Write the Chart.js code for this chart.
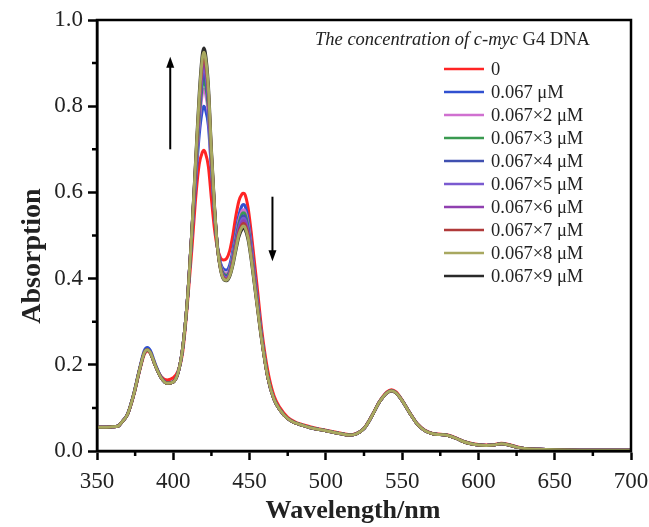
<!DOCTYPE html>
<html>
<head>
<meta charset="utf-8">
<script src="https://cdn.jsdelivr.net/npm/chart.js@4.4.1/dist/chart.umd.min.js"></script>
<style>
  html, body { margin: 0; padding: 0; background: #fff; }
  #wrap { width: 649px; height: 527px; }
</style>
</head>
<body>
<div id="wrap"><canvas id="spectra" width="649" height="527"></canvas></div>
<script>
// UV-vis spectra, one curve per titration step
const wavelengths = [
  350, 355, 360, 364, 366, 370, 374, 378, 381, 383,
  385, 388, 392, 396, 400, 403, 406,
  409, 412, 415, 417, 419, 420, 421, 423, 425, 427, 429, 431, 433, 435, 437, 439, 441, 443, 445, 446, 447, 449, 451, 453, 455, 458,
  462, 466, 470, 475, 480, 490, 500, 510, 515, 520,
  525, 530, 535, 540, 543, 546, 550, 555, 560, 565,
  570, 575, 580, 585, 590, 595, 600, 605, 610, 615,
  620, 625, 630, 640, 650, 670, 700
];

const abs0 = [
  0.055, 0.055, 0.056, 0.058, 0.066, 0.085, 0.128, 0.187, 0.224, 0.232,
  0.226, 0.2, 0.173, 0.165, 0.17, 0.185, 0.225,
  0.33, 0.46, 0.60, 0.665, 0.693, 0.698, 0.692, 0.66, 0.585, 0.515, 0.47, 0.448, 0.443, 0.447, 0.465, 0.50, 0.545, 0.58, 0.596, 0.598, 0.595, 0.565, 0.51, 0.445, 0.38, 0.28,
  0.185, 0.128, 0.1, 0.078, 0.067, 0.056, 0.048, 0.041, 0.038, 0.041,
  0.053, 0.081, 0.114, 0.137, 0.142, 0.137, 0.118, 0.089, 0.063, 0.048,
  0.041, 0.039, 0.037, 0.031, 0.023, 0.018, 0.015, 0.014, 0.015, 0.018,
  0.015, 0.01, 0.006, 0.004, 0.003, 0.002, 0.002
];
const abs1 = [
  0.055, 0.055, 0.056, 0.058, 0.066, 0.086, 0.132, 0.193, 0.233, 0.24,
  0.233, 0.204, 0.172, 0.158, 0.161, 0.18, 0.235,
  0.34, 0.49, 0.64, 0.733, 0.79, 0.80, 0.793, 0.755, 0.65, 0.552, 0.475, 0.436, 0.422, 0.42, 0.432, 0.465, 0.508, 0.547, 0.569, 0.572, 0.569, 0.538, 0.484, 0.42, 0.357, 0.265,
  0.17, 0.12, 0.095, 0.075, 0.065, 0.054, 0.047, 0.04, 0.037, 0.04,
  0.052, 0.08, 0.113, 0.135, 0.14, 0.135, 0.117, 0.088, 0.062, 0.047,
  0.04, 0.038, 0.036, 0.03, 0.022, 0.017, 0.014, 0.013, 0.014, 0.017,
  0.014, 0.009, 0.006, 0.004, 0.003, 0.002, 0.002
];
const abs2 = [
  0.055, 0.055, 0.056, 0.058, 0.066, 0.085, 0.13, 0.19, 0.228, 0.235,
  0.228, 0.2, 0.17, 0.157, 0.16, 0.18, 0.235,
  0.34, 0.495, 0.657, 0.76, 0.828, 0.84, 0.832, 0.782, 0.662, 0.556, 0.472, 0.431, 0.415, 0.412, 0.423, 0.455, 0.497, 0.535, 0.557, 0.56, 0.557, 0.527, 0.475, 0.413, 0.351, 0.262,
  0.17, 0.12, 0.095, 0.075, 0.065, 0.054, 0.047, 0.04, 0.037, 0.04,
  0.052, 0.08, 0.113, 0.135, 0.14, 0.135, 0.117, 0.088, 0.062, 0.047,
  0.04, 0.038, 0.036, 0.03, 0.022, 0.017, 0.014, 0.013, 0.014, 0.017,
  0.014, 0.009, 0.006, 0.004, 0.003, 0.002, 0.002
];
const abs3 = [
  0.055, 0.055, 0.056, 0.058, 0.066, 0.085, 0.13, 0.19, 0.228, 0.235,
  0.228, 0.2, 0.17, 0.157, 0.16, 0.18, 0.235,
  0.34, 0.50, 0.667, 0.774, 0.847, 0.86, 0.851, 0.797, 0.67, 0.558, 0.47, 0.428, 0.411, 0.408, 0.419, 0.45, 0.491, 0.528, 0.55, 0.553, 0.55, 0.521, 0.47, 0.409, 0.348, 0.261,
  0.17, 0.12, 0.095, 0.075, 0.065, 0.054, 0.047, 0.04, 0.037, 0.04,
  0.052, 0.08, 0.113, 0.135, 0.14, 0.135, 0.117, 0.088, 0.062, 0.047,
  0.04, 0.038, 0.036, 0.03, 0.022, 0.017, 0.014, 0.013, 0.014, 0.017,
  0.014, 0.009, 0.006, 0.004, 0.003, 0.002, 0.002
];
const abs4 = [
  0.055, 0.055, 0.056, 0.058, 0.066, 0.085, 0.13, 0.19, 0.228, 0.235,
  0.228, 0.2, 0.17, 0.157, 0.16, 0.18, 0.235,
  0.34, 0.50, 0.673, 0.784, 0.861, 0.875, 0.866, 0.807, 0.675, 0.56, 0.47, 0.426, 0.408, 0.405, 0.416, 0.446, 0.486, 0.522, 0.543, 0.546, 0.543, 0.515, 0.465, 0.405, 0.345, 0.26,
  0.17, 0.12, 0.095, 0.075, 0.065, 0.054, 0.047, 0.04, 0.037, 0.04,
  0.052, 0.08, 0.113, 0.135, 0.14, 0.135, 0.117, 0.088, 0.062, 0.047,
  0.04, 0.038, 0.036, 0.03, 0.022, 0.017, 0.014, 0.013, 0.014, 0.017,
  0.014, 0.009, 0.006, 0.004, 0.003, 0.002, 0.002
];
const abs5 = [
  0.055, 0.055, 0.056, 0.058, 0.066, 0.085, 0.13, 0.19, 0.228, 0.235,
  0.228, 0.2, 0.17, 0.157, 0.16, 0.18, 0.235,
  0.34, 0.50, 0.68, 0.794, 0.876, 0.89, 0.88, 0.817, 0.68, 0.562, 0.47, 0.424, 0.405, 0.402, 0.413, 0.442, 0.481, 0.517, 0.537, 0.54, 0.537, 0.51, 0.461, 0.402, 0.343, 0.259,
  0.17, 0.12, 0.095, 0.075, 0.065, 0.054, 0.047, 0.04, 0.037, 0.04,
  0.052, 0.08, 0.113, 0.135, 0.14, 0.135, 0.117, 0.088, 0.062, 0.047,
  0.04, 0.038, 0.036, 0.03, 0.022, 0.017, 0.014, 0.013, 0.014, 0.017,
  0.014, 0.009, 0.006, 0.004, 0.003, 0.002, 0.002
];
const abs6 = [
  0.055, 0.055, 0.056, 0.058, 0.066, 0.085, 0.13, 0.19, 0.228, 0.235,
  0.228, 0.2, 0.17, 0.157, 0.16, 0.18, 0.235,
  0.34, 0.50, 0.685, 0.803, 0.888, 0.903, 0.893, 0.826, 0.685, 0.564, 0.47, 0.423, 0.403, 0.40, 0.411, 0.439, 0.477, 0.512, 0.531, 0.534, 0.531, 0.505, 0.457, 0.399, 0.341, 0.258,
  0.17, 0.12, 0.095, 0.075, 0.065, 0.054, 0.047, 0.04, 0.037, 0.04,
  0.052, 0.08, 0.113, 0.135, 0.14, 0.135, 0.117, 0.088, 0.062, 0.047,
  0.04, 0.038, 0.036, 0.03, 0.022, 0.017, 0.014, 0.013, 0.014, 0.017,
  0.014, 0.009, 0.006, 0.004, 0.003, 0.002, 0.002
];
const abs7 = [
  0.055, 0.055, 0.056, 0.058, 0.066, 0.085, 0.13, 0.19, 0.228, 0.235,
  0.228, 0.2, 0.17, 0.157, 0.16, 0.18, 0.235,
  0.34, 0.50, 0.69, 0.812, 0.90, 0.915, 0.905, 0.835, 0.69, 0.566, 0.47, 0.422, 0.401, 0.398, 0.409, 0.436, 0.473, 0.507, 0.525, 0.528, 0.525, 0.50, 0.453, 0.396, 0.339, 0.257,
  0.17, 0.12, 0.095, 0.075, 0.065, 0.054, 0.047, 0.04, 0.037, 0.04,
  0.052, 0.08, 0.113, 0.135, 0.14, 0.135, 0.117, 0.088, 0.062, 0.047,
  0.04, 0.038, 0.036, 0.03, 0.022, 0.017, 0.014, 0.013, 0.014, 0.017,
  0.014, 0.009, 0.006, 0.004, 0.003, 0.002, 0.002
];
const abs8 = [
  0.055, 0.055, 0.056, 0.058, 0.066, 0.085, 0.13, 0.19, 0.228, 0.235,
  0.228, 0.2, 0.17, 0.157, 0.16, 0.18, 0.235,
  0.34, 0.50, 0.695, 0.82, 0.91, 0.925, 0.915, 0.842, 0.695, 0.568, 0.47, 0.421, 0.399, 0.396, 0.407, 0.433, 0.469, 0.502, 0.519, 0.522, 0.519, 0.495, 0.449, 0.393, 0.337, 0.256,
  0.17, 0.12, 0.095, 0.075, 0.065, 0.054, 0.047, 0.04, 0.037, 0.04,
  0.052, 0.08, 0.113, 0.135, 0.14, 0.135, 0.117, 0.088, 0.062, 0.047,
  0.04, 0.038, 0.036, 0.03, 0.022, 0.017, 0.014, 0.013, 0.014, 0.017,
  0.014, 0.009, 0.006, 0.004, 0.003, 0.002, 0.002
];
const abs9 = [
  0.055, 0.055, 0.056, 0.058, 0.066, 0.085, 0.13, 0.19, 0.228, 0.235,
  0.228, 0.2, 0.17, 0.157, 0.16, 0.18, 0.235,
  0.34, 0.50, 0.70, 0.83, 0.92, 0.935, 0.925, 0.85, 0.70, 0.57, 0.47, 0.42, 0.398, 0.395, 0.405, 0.43, 0.465, 0.497, 0.514, 0.517, 0.514, 0.49, 0.445, 0.39, 0.335, 0.255,
  0.17, 0.12, 0.095, 0.075, 0.065, 0.054, 0.047, 0.04, 0.037, 0.04,
  0.052, 0.08, 0.113, 0.135, 0.14, 0.135, 0.117, 0.088, 0.062, 0.047,
  0.04, 0.038, 0.036, 0.03, 0.022, 0.017, 0.014, 0.013, 0.014, 0.017,
  0.014, 0.009, 0.006, 0.004, 0.003, 0.002, 0.002
];

const seriesLabels = [
  '0', '0.067 μM', '0.067×2 μM', '0.067×3 μM', '0.067×4 μM',
  '0.067×5 μM', '0.067×6 μM', '0.067×7 μM', '0.067×8 μM', '0.067×9 μM'
];
const seriesColors = [
  '#ff2424', '#3050d0', '#d070d0', '#3a9a50', '#4050b0',
  '#7a5ad0', '#9040b0', '#b03a3a', '#a8a860', '#2a2a2a'
];
const seriesValues = [abs0, abs1, abs2, abs3, abs4, abs5, abs6, abs7, abs8, abs9];

// arrows showing the trend of the two Soret bands (data units)
const arrows = [
  { x: 398, from: 0.70, to: 0.915 },
  { x: 465, from: 0.59, to: 0.44 }
];

const serif = '"Liberation Serif", "Times New Roman", serif';

const datasets = seriesValues.map((vals, i) => ({
  label: seriesLabels[i],
  data: vals.map((v, j) => ({ x: wavelengths[j], y: v })),
  borderColor: seriesColors[i],
  borderWidth: 3,
  pointRadius: 0,
  fill: false,
  cubicInterpolationMode: 'monotone',
  // olive on top, then the later steps
  order: i === 8 ? -1 : 9 - i
}));

const extras = {
  id: 'extras',
  afterDatasetsDraw(chart) {
    const { ctx, chartArea: a, scales: { x, y } } = chart;
    ctx.save();

    // trend arrows
    ctx.strokeStyle = '#000';
    ctx.fillStyle = '#000';
    ctx.lineWidth = 2;
    arrows.forEach(ar => {
      const px = x.getPixelForValue(ar.x);
      const y0 = y.getPixelForValue(ar.from);
      const y1 = y.getPixelForValue(ar.to);
      const dir = y1 < y0 ? -1 : 1;
      ctx.beginPath();
      ctx.moveTo(px, y0);
      ctx.lineTo(px, y1 - dir * 8);
      ctx.stroke();
      ctx.beginPath();
      ctx.moveTo(px, y1);
      ctx.lineTo(px - 4, y1 - dir * 11);
      ctx.lineTo(px + 4, y1 - dir * 11);
      ctx.closePath();
      ctx.fill();
    });

    // minor ticks
    ctx.lineWidth = 2.5;
    ctx.beginPath();
    for (let v = 375; v < 700; v += 50) {
      const px = x.getPixelForValue(v);
      ctx.moveTo(px, a.bottom);
      ctx.lineTo(px, a.bottom + 5);
    }
    for (let v = 0.1; v < 1; v += 0.2) {
      const py = y.getPixelForValue(v);
      ctx.moveTo(a.left - 5, py);
      ctx.lineTo(a.left, py);
    }
    ctx.stroke();

    // closed frame
    ctx.strokeRect(a.left, a.top, a.right - a.left, a.bottom - a.top);

    // axis titles
    ctx.fillStyle = '#222';
    ctx.font = 'bold 26px ' + serif;
    ctx.textAlign = 'center';
    ctx.textBaseline = 'alphabetic';
    ctx.fillText('Wavelength/nm', 353, 518);
    ctx.save();
    ctx.translate(40, 256);
    ctx.rotate(-Math.PI / 2);
    ctx.font = 'bold 28px ' + serif;
    ctx.fillText('Absorption', 0, 0);
    ctx.restore();

    // legend
    ctx.textAlign = 'left';
    ctx.font = 'italic 18.5px ' + serif;
    const head = 'The concentration of c-myc';
    ctx.fillText(head, 315, 45);
    const w = ctx.measureText(head).width;
    ctx.font = '18.5px ' + serif;
    ctx.fillText(' G4 DNA', 315 + w, 45);

    ctx.textBaseline = 'middle';
    chart.data.datasets.forEach((ds, i) => {
      const ly = 69 + 23 * i;
      ctx.strokeStyle = ds.borderColor;
      ctx.lineWidth = 2.5;
      ctx.beginPath();
      ctx.moveTo(444, ly);
      ctx.lineTo(484, ly);
      ctx.stroke();
      ctx.fillStyle = '#222';
      ctx.fillText(ds.label, 491, ly + 1);
    });

    ctx.restore();
  }
};

new Chart(document.getElementById('spectra'), {
  type: 'line',
  data: { datasets },
  options: {
    responsive: false,
    animation: false,
    layout: { padding: { top: 20, right: 18, left: 0, bottom: 0 } },
    plugins: { legend: { display: false }, tooltip: { enabled: false } },
    scales: {
      x: {
        type: 'linear',
        min: 350,
        max: 700,
        ticks: { stepSize: 50, color: '#222', padding: 8, maxRotation: 0, font: { family: serif, size: 23 } },
        grid: { drawOnChartArea: false, tickLength: 9, tickWidth: 2.5, tickColor: '#000' },
        border: { color: '#000', width: 2.5 },
        afterFit: s => {
          s.height = 76;
          // edge labels may overhang, keep the plot box fixed
          s.paddingLeft = 0;
          s.paddingRight = 0;
        }
      },
      y: {
        min: 0,
        max: 1,
        ticks: {
          stepSize: 0.2,
          color: '#222',
          padding: 5,
          font: { family: serif, size: 23 },
          callback: v => v.toFixed(1)
        },
        grid: { drawOnChartArea: false, tickLength: 9, tickWidth: 2.5, tickColor: '#000' },
        border: { color: '#000', width: 2.5 },
        afterFit: s => {
          s.width = 97;
          s.paddingTop = 0;
          s.paddingBottom = 0;
        }
      }
    }
  },
  plugins: [extras]
});
</script>
</body>
</html>
